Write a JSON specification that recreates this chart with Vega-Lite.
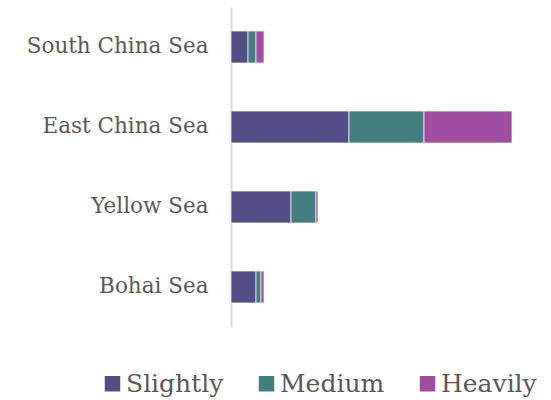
{
  "$schema": "https://vega.github.io/schema/vega-lite/v6.json",
  "autosize": {"type": "none"},
  "padding": {"left": 231, "top": 7, "right": 10, "bottom": 73},
  "width": 310,
  "height": 320,
  "background": "white",
  "data": {"values": [
    {"sea": "South China Sea", "level": "Slightly", "k": 1, "v": 17},
    {"sea": "South China Sea", "level": "Medium", "k": 2, "v": 8},
    {"sea": "South China Sea", "level": "Heavily", "k": 3, "v": 8},
    {"sea": "East China Sea", "level": "Slightly", "k": 1, "v": 118},
    {"sea": "East China Sea", "level": "Medium", "k": 2, "v": 75},
    {"sea": "East China Sea", "level": "Heavily", "k": 3, "v": 88},
    {"sea": "Yellow Sea", "level": "Slightly", "k": 1, "v": 60},
    {"sea": "Yellow Sea", "level": "Medium", "k": 2, "v": 25},
    {"sea": "Yellow Sea", "level": "Heavily", "k": 3, "v": 2},
    {"sea": "Bohai Sea", "level": "Slightly", "k": 1, "v": 25},
    {"sea": "Bohai Sea", "level": "Medium", "k": 2, "v": 5},
    {"sea": "Bohai Sea", "level": "Heavily", "k": 3, "v": 3}
  ]},
  "mark": {"type": "bar", "stroke": "white", "strokeWidth": 0.7},
  "encoding": {
    "y": {
      "field": "sea", "type": "nominal",
      "sort": ["South China Sea", "East China Sea", "Yellow Sea", "Bohai Sea"],
      "scale": {"paddingInner": 0.6, "paddingOuter": 0.3},
      "axis": {
        "title": null, "ticks": false, "domainColor": "#d9d9d9", "domainWidth": 2,
        "labelFont": "DejaVu Serif", "labelFontSize": 21.5, "labelColor": "#595959",
        "labelPadding": 23, "labelLimit": 400
      }
    },
    "x": {
      "field": "v", "type": "quantitative", "stack": "zero",
      "scale": {"domain": [0, 310]},
      "axis": null
    },
    "color": {
      "field": "level", "type": "nominal",
      "scale": {"domain": ["Slightly", "Medium", "Heavily"], "range": ["#534f86", "#427e80", "#a04ea0"]},
      "legend": {
        "title": null, "orient": "none", "direction": "horizontal",
        "legendX": -131, "legendY": 364,
        "symbolType": "square", "symbolSize": 240, "symbolStrokeWidth": 0,
        "labelFont": "DejaVu Serif", "labelFontSize": 25, "labelColor": "#595959",
        "labelOffset": 1, "columnPadding": 30
      }
    },
    "order": {"field": "k", "type": "quantitative"}
  },
  "config": {"view": {"stroke": null}}
}
